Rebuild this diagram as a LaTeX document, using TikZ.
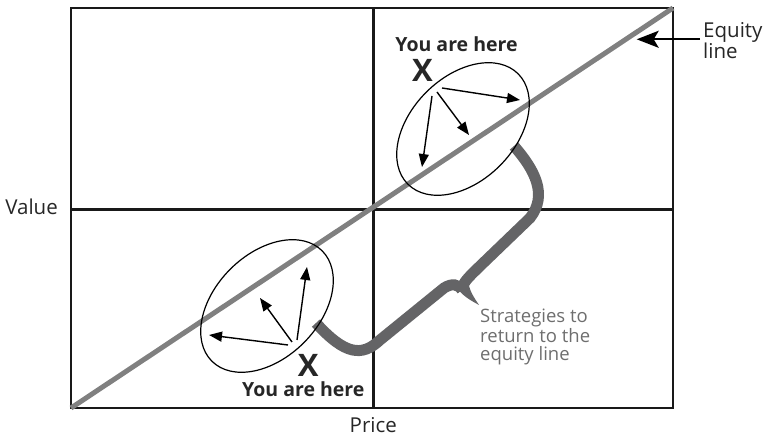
\documentclass[tikz,border=0pt]{standalone}
\usepackage{fontspec}
\setmainfont{Open Sans}
\usetikzlibrary{arrows.meta,shapes.geometric}
\definecolor{eqgray}{RGB}{128,128,128}
\definecolor{bracegray}{RGB}{100,100,102}
\definecolor{txtgray}{RGB}{110,110,110}
\begin{document}
\begin{tikzpicture}[x=1pt,y=1pt,
  gridline/.style={line width=2.5pt,black!90},
  eqline/.style={line width=5pt,eqgray},
  oval/.style={draw,ellipse,line width=1.2pt,minimum width=156pt,minimum height=104pt,inner sep=0pt,rotate=45},
  move/.style={line width=1.4pt,-{Triangle[length=13pt,width=10pt]}},
  bracestroke/.style={line width=11pt,bracegray},
  lbl/.style={inner sep=0pt,font=\fontsize{20.5}{21}\selectfont,text=black!85},
  here/.style={inner sep=0pt,font=\fontsize{19.5}{20}\selectfont\bfseries,text=black!85},
  xmark/.style={inner sep=0pt,font=\fontsize{31}{31}\selectfont\bfseries,text=black!85},
]
\useasboundingbox (0,0) rectangle (766,436);
% grid
\coordinate (BL) at (71,28);
\coordinate (TR) at (673,428);
\draw[gridline] (BL) rectangle (TR);
\coordinate (VT) at (373.3,428);
\coordinate (VB) at (373.3,28);
\coordinate (HL) at (71,226.7);
\coordinate (HR) at (673,226.7);
\draw[gridline] (VT) -- (VB);
\draw[gridline] (HL) -- (HR);
% brace
\coordinate (B1) at (514,290);
\coordinate (B2) at (530,218);
\coordinate (B3) at (478,168);
\coordinate (Bc) at (462,146);
\coordinate (B4) at (444,148);
\coordinate (B5) at (380,96);
\coordinate (B6) at (316,113);
\coordinate (Btip) at (479,131);
\draw[bracestroke,line cap=butt] (B1) .. controls (535,266) and (548,241) .. (B2) -- (B3) .. controls (468,158) and (463,154) .. (Bc);
\draw[bracestroke,line cap=butt] (Bc) .. controls (458,152) and (452,153) .. (B4) -- (B5) .. controls (362,79) and (345,81) .. (B6);
\fill[bracegray] (455,151) .. controls (462,140) and (470,136) .. (Btip) .. controls (473,140) and (469,146) .. (468,156) -- cycle;
% equity line
\draw[eqline] (BL) -- (TR);
% ellipses
\node[oval] (E1) at (463,307) {};
\node[oval] (E2) at (267,130) {};
% upper arrows
\coordinate (U1s) at (442,348); \coordinate (U1e) at (520,336);
\coordinate (U2s) at (437,344); \coordinate (U2e) at (469,301);
\coordinate (U3s) at (432,340); \coordinate (U3e) at (422,269);
\draw[move] (U1s) -- (U1e);
\draw[move] (U2s) -- (U2e);
\draw[move] (U3s) -- (U3e);
% lower arrows
\coordinate (L1s) at (288,91); \coordinate (L1e) at (209,101);
\coordinate (L2s) at (292,94); \coordinate (L2e) at (260,138);
\coordinate (L3s) at (297,96); \coordinate (L3e) at (307,169);
\draw[move] (L1s) -- (L1e);
\draw[move] (L2s) -- (L2e);
\draw[move] (L3s) -- (L3e);
% texts
\node[here,anchor=base] (Y1) at (456.5,384.3) {You are here};
\node[xmark,anchor=base] (X1) at (422.5,354.3) {X};
\node[xmark,anchor=base] (X2) at (308.3,59.3) {X};
\node[here,anchor=base] (Y2) at (303.3,39.3) {You are here};
\node[lbl,anchor=base east] (V) at (58,221) {Value};
\node[lbl,anchor=base] (P) at (373.3,3.5) {Price};
\node[lbl,anchor=north west,align=left] (EQ) at (703,413.3) {Equity\\line};
\node[inner sep=0pt,anchor=north west,align=left,text=txtgray,font=\fontsize{18.5}{18}\selectfont] (S) at (480,127) {Strategies to\\return to the\\equity line};
% equity arrow
\coordinate (EA) at (700,396.7);
\coordinate (EB) at (636.7,396.7);
\draw[line width=2.2pt,-{Stealth[length=22pt,width=17pt,inset=5pt]}] (EA) -- (EB);
\end{tikzpicture}
\end{document}
